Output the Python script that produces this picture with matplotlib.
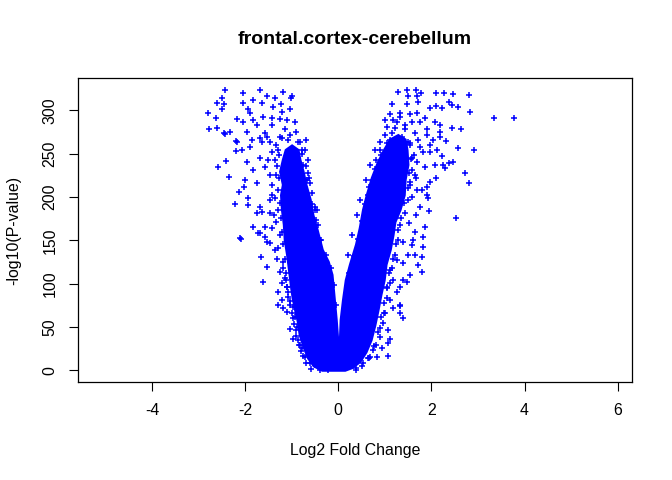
"""
Volcano plot: frontal.cortex-cerebellum
"""
import matplotlib
matplotlib.use("Agg")
import matplotlib.pyplot as plt

plt.rcParams['font.family'] = ['Liberation Sans', 'DejaVu Sans']

# dense core of the volcano (outline of the solid blue region)
core_x = [-0.34, -0.52, -0.64, -0.73, -0.82, -0.86, -0.92, -0.97, -1.01, -1.05, -1.09,
          -1.14, -1.16, -1.20, -1.22, -1.18, -1.24, -1.18, -1.12, -0.99, -0.86,
          -0.82, -0.75, -0.69, -0.60, -0.54, -0.45, -0.34, -0.21, -0.13, -0.09, -0.04, 0.00,
          0.04, 0.06, 0.11, 0.17, 0.26, 0.39, 0.47, 0.54, 0.62, 0.73, 0.86, 0.99, 1.12,
          1.29, 1.44,
          1.48, 1.50, 1.44, 1.42, 1.33, 1.22, 1.18, 1.12, 1.03, 0.99, 0.92, 0.86, 0.79,
          0.71, 0.60, 0.47, 0.30, 0.15]
core_y = [0, 5, 14, 26, 41, 56, 70, 83, 98, 116, 133,
          150, 168, 185, 202, 214, 229, 243, 254, 259, 254,
          243, 229, 214, 197, 179, 162, 139, 125, 110, 87, 58, 29,
          29, 58, 81, 104, 122, 145, 164, 185, 202, 222, 240, 254, 266,
          271, 266,
          254, 237, 220, 202, 185, 171, 156, 139, 122, 104, 87, 70, 52,
          35, 21, 10, 3, 0]

# genes sitting on the ragged rim of the core
edge_x = [-1.28, -1.31, -1.27, -1.30, -1.25, -1.23, -1.21, -1.19, -1.15, -1.12, -1.09,
          -1.04, -0.99, -0.95, -0.90, -0.80, -0.70, -0.58,
          -0.78, -0.70, -0.63, -0.57, -0.50, -0.43, -0.36, -0.27, -0.15, -0.08, -0.05,
          0.10, 0.12, 0.20, 0.24, 0.33, 0.43, 0.50, 0.58, 0.66, 0.79, 0.92, 1.05,
          1.55, 1.57, 1.53, 1.50, 1.42, 1.35, 1.28, 1.24, 1.18, 1.10, 1.05, 0.98,
          0.92, 0.86, 0.77, 0.66, 0.52, 0.38]
edge_y = [248, 236, 222, 208, 193, 176, 160, 146, 128, 112, 96,
          80, 66, 54, 40, 22, 8, 2,
          250, 236, 222, 205, 185, 168, 150, 133, 118, 98, 75,
          50, 70, 95, 112, 132, 152, 172, 192, 212, 232, 248, 262,
          262, 244, 228, 210, 193, 176, 162, 146, 128, 112, 96, 78,
          62, 44, 28, 14, 5, 1]

# down-regulated genes outside the core
left_x = [-2.42, -2.49, -2.60, -2.45, -2.79, -2.62, -2.49, -2.77, -2.60, -2.45, -2.32,
          -2.19, -2.19, -2.06, -2.40, -2.58, -2.34, -2.21, -2.08, -2.04, -1.67, -1.18,
          -1.01, -1.82, -2.04, -1.93, -1.63, -1.39, -1.22, -1.03, -1.20, -0.92, -1.42,
          -1.61, -1.82, -2.17, -2.04, -1.95, -1.74, -1.57, -1.42, -1.14, -1.85, -1.67,
          -1.89, -1.67, -1.95, -1.82, -1.57, -2.12, -2.02, -1.93, -1.67, -1.82, -1.67,
          -1.57, -1.42, -1.65, -1.52, -1.74, -1.93, -1.52, -0.99, -1.35, -1.24, -1.09,
          -1.89, -1.52, -1.46, -1.63, -1.24, -1.07, -0.82, -2.17, -2.42, -2.00, -1.74,
          -1.63, -1.46, -1.72, -2.10, -1.57, -0.67, -0.60, -0.64, -0.75, -0.49, -0.45,
          -0.77, -0.86, -1.29, -1.35, -1.46, -1.42,
          -1.61, -1.29, -1.20, -1.29, -1.18, -1.09, -1.03, -0.86, -0.82, -1.52, -1.46,
          -1.35, -1.31, -1.18, -1.24, -1.14, -1.20, -1.09, -1.07, -0.97, -0.92, -0.88,
          -0.77, -0.97, -0.71, -0.60, -0.49, -0.39, -0.21,
          -1.33, -1.42, -1.50, -1.03, -0.90, -0.71, -0.64, -1.33, -1.42, -1.35, -1.29,
          -1.33, -1.24, -1.29, -1.18, -1.12, -1.07, -1.03, -0.97, -0.90, -0.84, -0.75,
          -0.56, -0.47, -0.39, -0.69, -1.20, -1.46, -1.37]
left_y = [324, 314, 309, 307, 297, 291, 302, 279, 280, 274, 275,
          265, 253, 254, 242, 235, 223, 192, 152, 320, 323, 321,
          314, 312, 309, 301, 309, 304, 307, 301, 298, 287, 291,
          292, 289, 290, 286, 275, 283, 274, 283, 279, 266, 268,
          258, 245, 240, 231, 235, 206, 212, 199, 189, 165, 158,
          165, 164, 131, 119, 182, 191, 316, 316, 314, 290, 289,
          297, 269, 263, 264, 269, 266, 263, 264, 273, 220, 216,
          183, 182, 158, 153, 154, 220, 216, 228, 237, 189, 185,
          254, 264, 254, 243, 225, 202,
          102, 90, 81, 75, 72, 67, 48, 35, 29, 148, 147,
          139, 129, 125, 114, 107, 101, 96, 85, 73, 62, 50,
          26, 36, 15, 8, 6, 0, 0,
          260, 252, 243, 272, 275, 254, 243, 225, 214, 199, 185,
          171, 156, 141, 118, 104, 90, 75, 60, 47, 29, 17,
          192, 174, 150, 266, 268, 197, 179]

# up-regulated genes outside the core
right_x = [1.29, 1.48, 1.67, 1.78, 2.10, 2.27, 2.47, 2.81, 1.50, 1.70, 1.16, 1.48,
           1.72, 1.97, 2.10, 2.23, 2.38, 2.45, 2.58, 2.83, 3.35, 3.78, 1.12, 1.33,
           1.55, 1.70, 1.87, 2.08, 2.19, 2.19, 2.45, 2.64, 1.91, 1.91, 1.65, 1.97,
           2.19, 2.32, 2.58, 2.92, 2.12, 1.97, 2.23, 2.08, 2.25, 2.30, 2.38, 2.47,
           2.73, 2.81, 2.53, 2.10, 1.97, 1.91, 1.70, 1.80, 1.91, 1.93, 1.76, 1.95,
           1.67, 1.52, 1.87, 1.65, 1.82, 0.90, 0.90, 1.12, 1.01, 1.59, 1.70, 1.87,
           1.65, 1.55, 1.59, 1.39, 1.01, 1.05, 1.27, 1.16, 1.18, 1.44, 1.59, 1.76,
           2.04, 1.76, 1.82, 1.33, 1.37, 1.50, 0.73, 0.64, 0.82,
           1.39, 1.50, 1.65, 1.80, 1.80, 1.55, 1.39, 1.48, 1.33, 1.27, 1.12, 1.33,
           1.18, 1.33, 1.07, 1.07, 0.94, 0.84, 1.82, 1.61, 1.39, 1.27, 1.12, 1.18,
           1.05, 1.01, 0.97, 0.90, 0.75, 0.69, 0.54, 0.39, 1.39, 1.33, 1.07, 1.12,
           1.59, 1.72,
           1.22, 1.44, 1.55, 1.63, 1.59, 1.55, 1.50, 1.44, 1.33, 1.29, 1.22, 1.16,
           1.12, 1.05, 0.99, 0.90, 0.82, 0.64, 0.79, 0.69, 0.60, 0.47, 0.41, 0.30,
           0.21, 1.01, 1.72, 1.67]
right_y = [321, 323, 324, 320, 320, 320, 319, 318, 316, 317, 307, 307,
           310, 303, 305, 303, 310, 306, 304, 298, 291, 291, 296, 297,
           296, 297, 291, 287, 283, 275, 280, 279, 278, 272, 274, 260,
           269, 265, 257, 254, 254, 252, 247, 237, 237, 234, 239, 240,
           228, 216, 176, 222, 217, 212, 208, 208, 202, 199, 189, 184,
           179, 170, 165, 160, 154, 263, 254, 266, 245, 245, 240, 235,
           225, 217, 200, 208, 289, 281, 286, 274, 289, 278, 286, 286,
           266, 258, 252, 292, 269, 263, 220, 202, 243,
           148, 133, 133, 131, 114, 110, 104, 102, 96, 90, 81, 75,
           72, 66, 47, 32, 26, 15, 142, 150, 124, 127, 116, 104,
           95, 66, 55, 38, 23, 15, 8, 3, 60, 74, 17, 36,
           145, 121,
           280, 283, 260, 248, 231, 214, 197, 182, 168, 150, 133, 118,
           101, 84, 66, 49, 29, 14, 254, 237, 220, 197, 179, 156,
           133, 272, 266, 222]

x_ticks = [-4, -2, 0, 2, 4, 6]
y_ticks = [0, 50, 100, 150, 200, 250, 300]

fig = plt.figure(figsize=(6.72, 4.8), dpi=100)
ax = fig.add_axes([0.1165, 0.204, 0.8235, 0.633])

ax.fill(core_x, core_y, color='#0000FF', lw=2.0, zorder=2)
ax.scatter(left_x + right_x + edge_x, left_y + right_y + edge_y, marker='+', s=22,
           color='#0000FF', linewidths=1.1, zorder=3)

ax.set_xlim(-5.58, 6.30)
ax.set_ylim(-13.5, 337)
ax.set_xticks(x_ticks)
ax.set_yticks(y_ticks)
ax.set_xticklabels([str(t) for t in x_ticks])
ax.set_yticklabels([str(t) for t in y_ticks], rotation=90, va='center')
ax.tick_params(direction='out', length=6.8, width=0.8, labelsize=11.4,
               pad=8, colors='black')
for sp in ax.spines.values():
    sp.set_linewidth(0.9)

fig.text(0.528, 0.917, 'frontal.cortex-cerebellum', ha='center', va='center',
         fontsize=14, fontweight='bold')
fig.text(0.528, 0.0625, 'Log2 Fold Change', ha='center', va='center', fontsize=11.4)
fig.text(0.021, 0.52, '-log10(P-value)', ha='center', va='center',
         rotation=90, fontsize=11.4)

fig.savefig('out.png', dpi=100)
